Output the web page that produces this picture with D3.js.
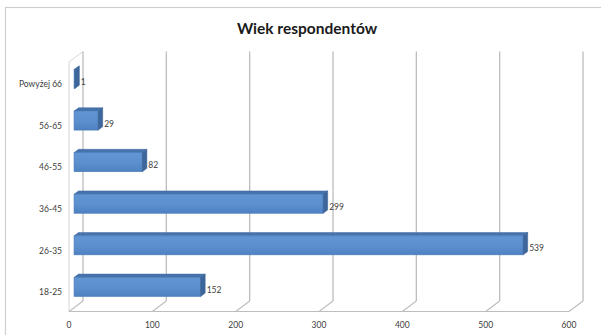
<!DOCTYPE html>
<html>
<head>
<meta charset="utf-8">
<script src="https://cdn.jsdelivr.net/npm/d3@7"></script>
<style>
  html, body { margin: 0; padding: 0; background: #fff; }
  svg { display: block; }
  text { font-family: Lato, "Open Sans", sans-serif; }
</style>
</head>
<body>
<svg id="chart" width="601" height="335"></svg>
<script>
// Age groups of respondents and their counts
const categories = ["18-25", "26-35", "36-45", "46-55", "56-65", "Powyżej 66"];
const counts = [152, 539, 299, 82, 29, 1];
const tickValues = [0, 100, 200, 300, 400, 500, 600];
const title = "Wiek respondentów";

const svg = d3.select("#chart");
const W = 601, H = 335;

// 3D projection: depth vector of the plot box
const DX = 14, DY = -10.5;
const shift = (t) => [t * DX, t * DY];

// front-plane scales
const x = d3.scaleLinear().domain([0, 600]).range([69, 569]);
const y = d3.scaleBand().domain(categories.slice().reverse()).range([62, 311.5]);

// chart frame
svg.append("rect")
  .attr("x", 5.5).attr("y", 7.5)
  .attr("width", W + 10).attr("height", H + 10)
  .attr("fill", "#fff").attr("stroke", "#cfcfcf").attr("stroke-width", 1.2);

// title
svg.append("text")
  .attr("x", 307).attr("y", 34)
  .attr("text-anchor", "middle")
  .attr("font-size", 15.5).attr("font-weight", "bold")
  .attr("fill", "#1a1a1a")
  .text(title);

const grid = svg.append("g").attr("fill", "none");
const gridColor = "#bdbdbd";
const [bx, by] = shift(1);
const yTop = y.range()[0], yBot = y.range()[1];

// left side wall
grid.append("path")
  .attr("d", `M${x(0)},${yBot} L${x(0)},${yTop} L${x(0) + bx},${yTop + by}`)
  .attr("stroke", "#d6d6d6").attr("stroke-width", 1);

// back wall gridlines and floor depth lines
tickValues.forEach(v => {
  grid.append("line")
    .attr("x1", x(v) + bx).attr("x2", x(v) + bx)
    .attr("y1", yTop + by).attr("y2", yBot + by)
    .attr("stroke", gridColor).attr("stroke-width", 1.3);
  grid.append("line")
    .attr("x1", x(v)).attr("y1", yBot)
    .attr("x2", x(v) + bx).attr("y2", yBot + by)
    .attr("stroke", gridColor).attr("stroke-width", 1.1);
});
// floor front edge
grid.append("line")
  .attr("x1", x(0)).attr("x2", x(600))
  .attr("y1", yBot).attr("y2", yBot)
  .attr("stroke", gridColor).attr("stroke-width", 1.1);

// x-axis tick labels
svg.append("g").selectAll("text")
  .data(tickValues).join("text")
  .attr("x", d => x(d)).attr("y", 328)
  .attr("text-anchor", "middle")
  .attr("font-size", 8.5).attr("fill", "#404040")
  .text(d => d);

// category labels
svg.append("g").selectAll("text")
  .data(categories).join("text")
  .attr("x", 62).attr("y", d => y(d) + y.bandwidth() / 2 + 4.5)
  .attr("text-anchor", "end")
  .attr("font-size", 8.5).attr("fill", "#404040")
  .text(d => d);

// bar gradient
const defs = svg.append("defs");
const grad = defs.append("linearGradient").attr("id", "barFront")
  .attr("x1", 0).attr("y1", 0).attr("x2", 0).attr("y2", 1);
grad.append("stop").attr("offset", "0%").attr("stop-color", "#6195d4");
grad.append("stop").attr("offset", "55%").attr("stop-color", "#5b8fce");
grad.append("stop").attr("offset", "100%").attr("stop-color", "#4e81c1");

// 3D bars
const T0 = 0.36, T1 = 0.68, BAR_H = 19;
const [fx, fy] = shift(T0);
const ddx = (T1 - T0) * DX, ddy = (T1 - T0) * DY;
const data = categories.map((c, i) => ({ c, v: counts[i] }));

svg.append("g").selectAll("g")
  .data(data).join("g")
  .each(function (d) {
    const g = d3.select(this);
    const cy = y(d.c) + y.bandwidth() / 2 + fy;
    const xl = x(0) + fx, xr = x(d.v) + fx;
    const yt = cy - BAR_H / 2, yb = cy + BAR_H / 2;
    // top face
    g.append("path")
      .attr("d", `M${xl},${yt} L${xr},${yt} L${xr + ddx},${yt + ddy} L${xl + ddx},${yt + ddy} Z`)
      .attr("fill", "#4673ad").attr("stroke", "#3f6aa0").attr("stroke-width", 0.5);
    // front face
    g.append("rect")
      .attr("x", xl).attr("y", yt)
      .attr("width", xr - xl).attr("height", BAR_H)
      .attr("fill", "url(#barFront)").attr("stroke", "#4a7bb8").attr("stroke-width", 0.6);
    // side face
    g.append("path")
      .attr("d", `M${xr},${yt} L${xr + ddx},${yt + ddy} L${xr + ddx},${yb + ddy} L${xr},${yb} Z`)
      .attr("fill", "#3d679c").attr("stroke", "#365d8f").attr("stroke-width", 0.5);
    // value label
    g.append("text")
      .attr("x", xr + ddx + 1.5).attr("y", cy + 6)
      .attr("font-size", 8.5).attr("fill", "#404040")
      .text(d.v);
  });
</script>
</body>
</html>
